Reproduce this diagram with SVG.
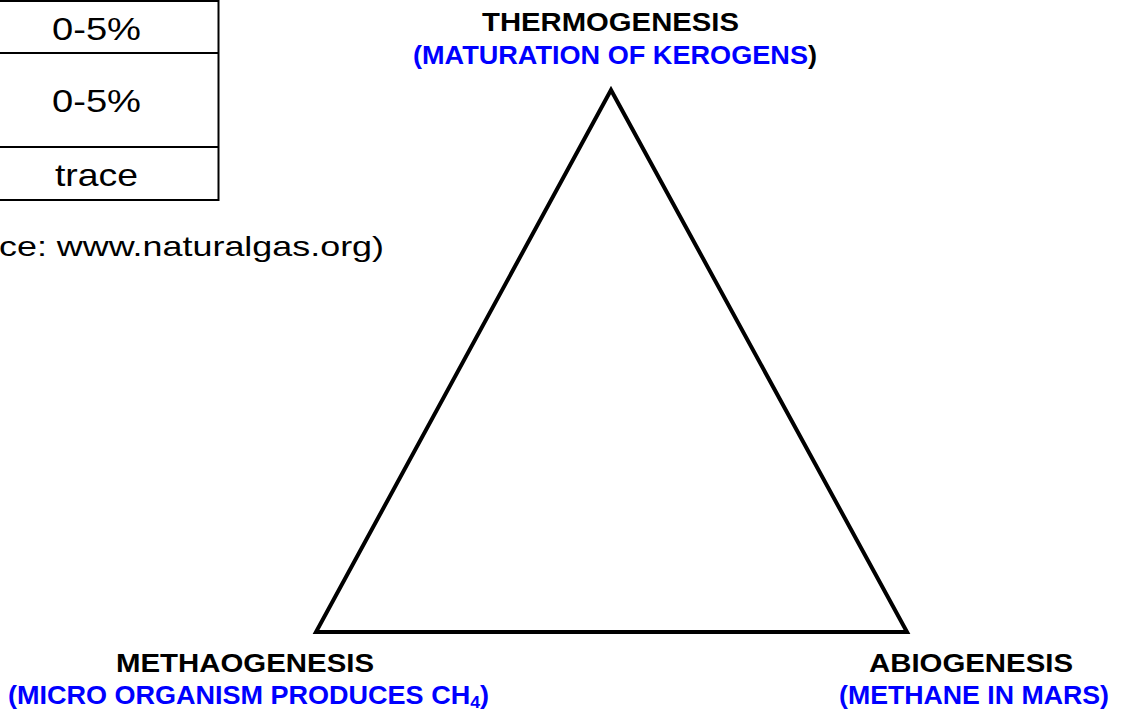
<svg xmlns="http://www.w3.org/2000/svg" width="1124" height="713" viewBox="0 0 1124 713">
<style>
.tbl{stroke:#000;stroke-width:2;fill:none}
.cell{font-family:"Liberation Sans",Arial,sans-serif;font-size:32px;fill:#000}
.src{font-family:"Liberation Sans",Arial,sans-serif;font-size:28px;fill:#000}
.lbl{font-family:"Liberation Sans",Arial,sans-serif;font-size:26px;font-weight:bold;fill:#000}
.sub{font-family:"Liberation Sans",Arial,sans-serif;font-size:26px;font-weight:bold;fill:#0000FF}
.blk{fill:#000}
.tri{stroke:#000;stroke-width:4;fill:none;stroke-linejoin:miter}
</style>
<rect width="1124" height="713" fill="#fff"/>
<g id="table">
<line class="tbl" x1="0" y1="1" x2="219" y2="1"/>
<line class="tbl" x1="0" y1="53" x2="219" y2="53"/>
<line class="tbl" x1="0" y1="147" x2="219" y2="147"/>
<line class="tbl" x1="0" y1="200" x2="219" y2="200"/>
<line class="tbl" x1="218.5" y1="0" x2="218.5" y2="201"/>
<text class="cell" x="52" y="40" textLength="89" lengthAdjust="spacingAndGlyphs">0-5%</text>
<text class="cell" x="52" y="112" textLength="89" lengthAdjust="spacingAndGlyphs">0-5%</text>
<text class="cell" x="55" y="186" textLength="83" lengthAdjust="spacingAndGlyphs">trace</text>
</g>
<g id="source">
<text class="src" x="-1" y="256" textLength="385" lengthAdjust="spacingAndGlyphs">ce: www.naturalgas.org)</text>
</g>
<g id="connectors">
<polygon class="tri" points="611,90 316,632 907,632"/>
</g>
<g id="thermogenesis">
<text class="lbl" x="482" y="31" textLength="257" lengthAdjust="spacingAndGlyphs">THERMOGENESIS</text>
<text class="sub" x="413" y="64" textLength="404" lengthAdjust="spacingAndGlyphs">(MATURATION OF KEROGENS<tspan class="blk">)</tspan></text>
</g>
<g id="methaogenesis">
<text class="lbl" x="116" y="672" textLength="258" lengthAdjust="spacingAndGlyphs">METHAOGENESIS</text>
<text class="sub" x="8" y="704" textLength="481" lengthAdjust="spacingAndGlyphs">(MICRO ORGANISM PRODUCES CH<tspan font-size="17" dy="4">4</tspan><tspan dy="-4">)</tspan></text>
</g>
<g id="abiogenesis">
<text class="lbl" x="869" y="672" textLength="204" lengthAdjust="spacingAndGlyphs">ABIOGENESIS</text>
<text class="sub" x="839" y="704" textLength="270" lengthAdjust="spacingAndGlyphs">(METHANE IN MARS)</text>
</g>
</svg>
